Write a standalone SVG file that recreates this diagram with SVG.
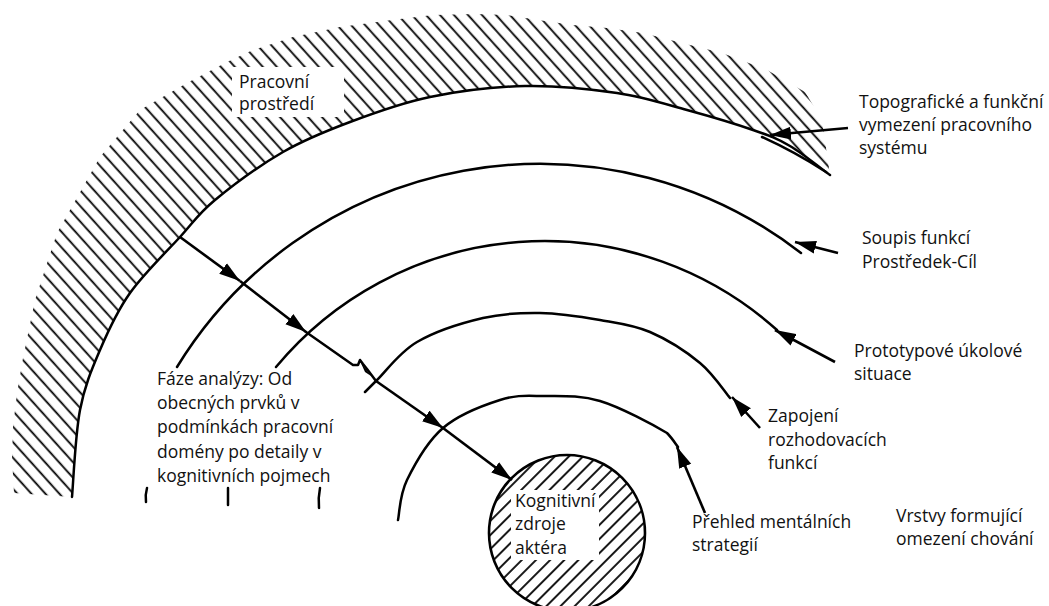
<svg xmlns="http://www.w3.org/2000/svg" width="1049" height="606" viewBox="0 0 1049 606">
<style>
.ln{fill:none;stroke:#000;stroke-width:2.5;stroke-linecap:round;stroke-linejoin:round}
.ar{fill:none;stroke:#000;stroke-width:2.6;marker-end:url(#ah)}
text{font-family:"Open Sans","Noto Sans","Liberation Sans",sans-serif;font-size:17.5px;fill:#111}
.wb{fill:#fff}
</style>
<defs>
<pattern id="hb" patternUnits="userSpaceOnUse" width="10.4" height="20" patternTransform="rotate(-42)">
<line x1="5" y1="-1" x2="5" y2="21" stroke="#000" stroke-width="1.8"/>
</pattern>
<pattern id="hc" patternUnits="userSpaceOnUse" width="10" height="20" patternTransform="rotate(45)">
<line x1="5" y1="-1" x2="5" y2="21" stroke="#000" stroke-width="1.8"/>
</pattern>
<marker id="ah" markerUnits="userSpaceOnUse" markerWidth="22" markerHeight="14" refX="21" refY="7" orient="auto">
<path d="M0,0.5 L21,7 L0,13.5 Z" fill="#000"/>
</marker>
</defs>
<rect width="1049" height="606" fill="#fff"/>

<g id="band">
<path fill="url(#hb)" d="M72,497 C73.3,482.5 75.3,434.5 80,410 C84.7,385.5 91.7,369.5 100,350 C108.3,330.5 116.7,311.8 130,293 C143.3,274.2 165.8,252.5 180,237 C194.2,221.5 197.8,214.2 215,200 C232.2,185.8 260.5,165 283,152 C305.5,139 325.5,131.2 350,122 C374.5,112.8 400.8,103 430,97 C459.2,91 493.8,86.7 525,86 C556.2,85.3 590,89 617,93 C644,97 664.3,103.8 687,110 C709.7,116.2 735.8,124 753,130 C770.2,136 777.2,138.5 790,146 C802.8,153.5 823.3,170.2 830,175 L827,155 L822,120 L805,92 L767,70 L722,53 L682,43 L643,33 L607,28 L573,25 L538,20 L507,15 L475,14 L433,15 L392,20 L340,27 L293,37 L253,50 L227,62 L187,83 L140,110 L100,157 L57,233 L35,300 L23,358 L17,393 L13,427 L12,457 L14,493 Z"/>
<path class="ln" d="M72,497 C73.3,482.5 75.3,434.5 80,410 C84.7,385.5 91.7,369.5 100,350 C108.3,330.5 116.7,311.8 130,293 C143.3,274.2 165.8,252.5 180,237 C194.2,221.5 197.8,214.2 215,200 C232.2,185.8 260.5,165 283,152 C305.5,139 325.5,131.2 350,122 C374.5,112.8 400.8,103 430,97 C459.2,91 493.8,86.7 525,86 C556.2,85.3 590,89 617,93 C644,97 664.3,103.8 687,110 C709.7,116.2 735.8,124 753,130 C770.2,136 777.2,138.5 790,146 C802.8,153.5 823.3,170.2 830,175"/>
<path class="ln" stroke-width="2" d="M762,137 Q795,152 826,172"/>
</g>

<g id="arc-2"><path class="ln" d="M177,367 A426,426 0 0 1 801,253"/></g>
<g id="arc-3"><path class="ln" d="M276,367 A349,349 0 0 1 777,330"/></g>
<g id="arc-4"><path class="ln" d="M365,392 L377,380 C385.7,371.7 399.3,352.3 417,342 C434.7,331.7 462.5,322.8 483,318 C503.5,313.2 520.5,312.7 540,313 C559.5,313.3 581.7,316.8 600,320 C618.3,323.2 633.3,324.8 650,332 C666.7,339.2 686.7,352 700,363 C713.3,374 725,392.2 730,398"/></g>
<g id="arc-5"><path class="ln" d="M398,520 C399.5,513.3 399.5,495.3 407,480 C414.5,464.7 427.5,441.3 443,428 C458.5,414.7 483.3,405.3 500,400 C516.7,394.7 526.3,395.8 543,396 C559.7,396.2 579.3,394.8 600,401 C620.7,407.2 654,425.3 667,433 C672,438 676.2,444.7 678,447"/></g>

<g id="ticks">
<path class="ln" d="M147,488 Q145,495 146,502"/>
<path class="ln" d="M228,488 L228,505"/>
<path class="ln" d="M320,488 Q318,498 319,508"/>
</g>

<g id="actor">
<circle cx="567" cy="533" r="78" fill="url(#hc)" stroke="#000" stroke-width="2.6"/>
<rect class="wb" x="511" y="490" width="88" height="70"/>
<text x="515" y="507">Kognitivní</text>
<text x="515" y="530">zdroje</text>
<text x="515" y="554">aktéra</text>
</g>

<g id="label-work-env">
<rect class="wb" x="232" y="67" width="112" height="50"/>
<text x="239" y="88">Pracovní</text>
<text x="239" y="110">prostředí</text>
</g>

<g id="connectors">
<path class="ar" d="M180,237 L240,281"/>
<path class="ar" d="M240,281 L306,332"/>
<path class="ln" d="M306,332 L353,365 L358,365 L360,360 L363,364 L367,369 L376,381"/>
<path d="M360,361 L371,376 L365,372 Z" fill="#000"/>
<path class="ar" d="M376,381 L443,428"/>
<path class="ar" d="M443,428 L512,480"/>
<path class="ar" d="M848,128 L770,135"/>
<path class="ar" d="M838,253 L795,242"/>
<path class="ar" d="M835,362 L775,330"/>
<path class="ar" d="M760,428 L732,397"/>
<path class="ar" d="M705,513 L677,447"/>
</g>

<g id="label-topo">
<text x="859" y="108">Topografické a funkční</text>
<text x="859" y="131">vymezení pracovního</text>
<text x="859" y="154">systému</text>
</g>
<g id="label-soupis">
<text x="862" y="244">Soupis funkcí</text>
<text x="862" y="268">Prostředek-Cíl</text>
</g>
<g id="label-proto">
<text x="854" y="357">Prototypové úkolové</text>
<text x="854" y="380">situace</text>
</g>
<g id="label-zapojeni">
<text x="768" y="422">Zapojení</text>
<text x="768" y="446">rozhodovacích</text>
<text x="768" y="469">funkcí</text>
</g>
<g id="label-prehled">
<text x="692" y="528">Přehled mentálních</text>
<text x="692" y="551">strategií</text>
</g>
<g id="label-vrstvy">
<text x="896" y="522">Vrstvy formující</text>
<text x="896" y="545">omezení chování</text>
</g>
<g id="label-faze">
<text x="157" y="385">Fáze analýzy: Od</text>
<text x="157" y="409">obecných prvků v</text>
<text x="157" y="433">podmínkách pracovní</text>
<text x="157" y="458">domény po detaily v</text>
<text x="157" y="482">kognitivních pojmech</text>
</g>
</svg>
